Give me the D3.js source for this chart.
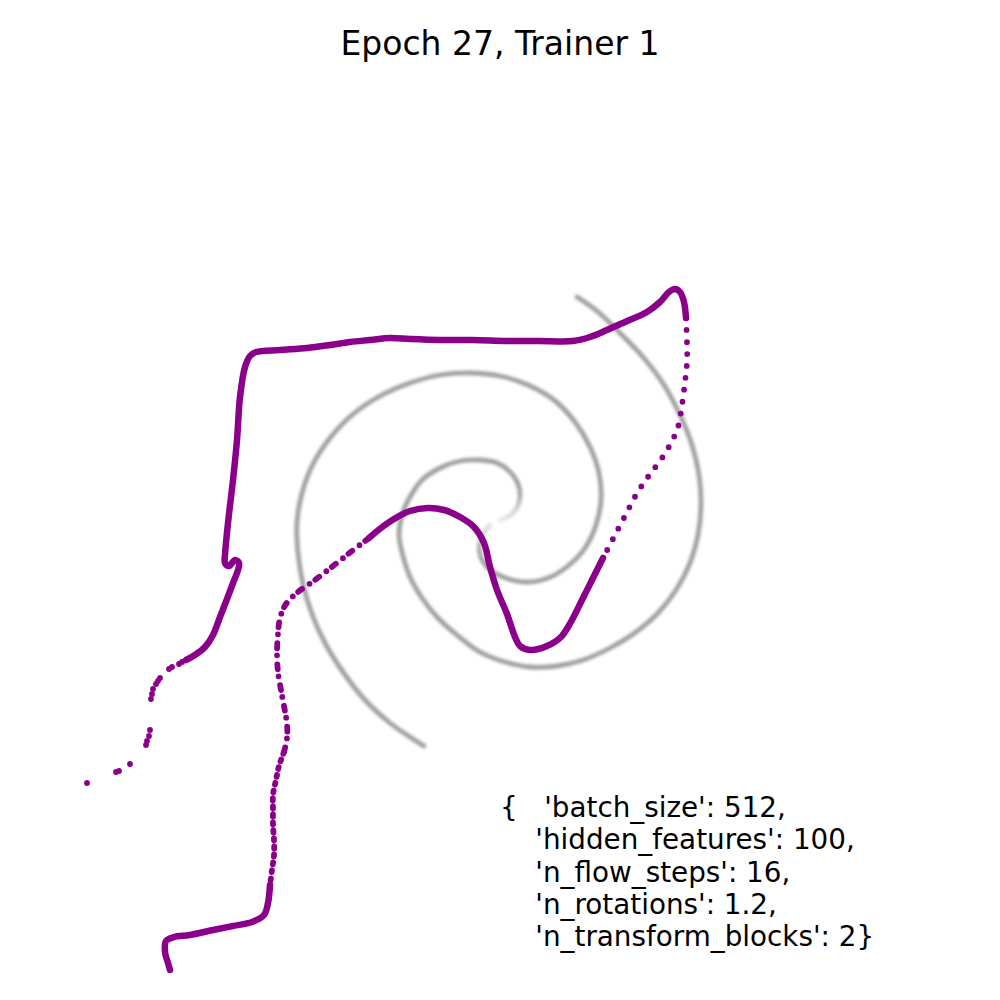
<!DOCTYPE html>
<html>
<head>
<meta charset="utf-8">
<script src="https://cdn.jsdelivr.net/npm/d3@7"></script>
<style>
  html, body { margin: 0; padding: 0; background: #ffffff; }
  svg { display: block; }
  text { font-family: "DejaVu Sans", sans-serif; }
</style>
</head>
<body>
<div id="chart"></div>
<script>
// ---------------- data ----------------
const titleText = "Epoch 27, Trainer 1";
const paramLines = [
  "{   'batch_size': 512,",
  "    'hidden_features': 100,",
  "    'n_flow_steps': 16,",
  "    'n_rotations': 1.2,",
  "    'n_transform_blocks': 2}"
];

// target spiral, arm A (inner -> outer)
const spiralArmA = [
  [0.00,0.00],[0.12,0.06],[0.19,0.18],[0.19,0.33],[0.11,0.47],[-0.03,0.57],[-0.20,0.60],
  [-0.40,0.59],[-0.60,0.52],[-0.78,0.40],[-0.90,0.23],[-0.98,0.05],[-1.01,-0.15],[-0.97,-0.36],
  [-0.90,-0.57],[-0.78,-0.78],[-0.62,-0.98],[-0.43,-1.15],[-0.20,-1.32],[0.05,-1.42],[0.30,-1.47],
  [0.57,-1.46],[0.83,-1.40],[1.10,-1.28],[1.36,-1.12],[1.58,-0.93],[1.76,-0.70],[1.90,-0.43],
  [1.98,-0.15],[2.01,0.15],[1.99,0.45],[1.92,0.75],[1.80,1.05],[1.64,1.35],[1.43,1.63],
  [1.20,1.87],[0.97,2.09],[0.77,2.23]
];
// target spiral, arm B (inner -> outer)
const spiralArmB = [
  [-0.10,-0.05],[-0.19,-0.18],[-0.20,-0.34],[-0.12,-0.48],[0.03,-0.57],[0.25,-0.62],[0.48,-0.58],
  [0.68,-0.46],[0.85,-0.28],[0.96,-0.05],[1.01,0.20],[0.99,0.47],[0.90,0.73],[0.75,0.98],
  [0.54,1.20],[0.28,1.35],[0.00,1.44],[-0.30,1.47],[-0.60,1.45],[-0.90,1.37],[-1.20,1.24],
  [-1.48,1.05],[-1.70,0.82],[-1.87,0.56],[-1.98,0.27],[-2.03,-0.02],[-2.02,-0.33],[-1.97,-0.64],
  [-1.88,-0.94],[-1.75,-1.23],[-1.57,-1.52],[-1.35,-1.80],[-1.10,-2.03],[-0.90,-2.17],[-0.76,-2.26]
];

// generated samples (purple), split into stretches by sample density
const sampleTailDots = [
  [-4.13,-2.63],[-3.84,-2.52],[-3.81,-2.51],[-3.70,-2.44],[-3.54,-2.25],[-3.53,-2.21],[-3.51,-2.16],
  [-3.50,-2.10],[-3.49,-1.79],[-3.48,-1.74],[-3.47,-1.69],[-3.44,-1.64],[-3.42,-1.61],[-3.40,-1.58],
  [-3.31,-1.49],[-3.28,-1.47],[-3.21,-1.44],[-3.18,-1.42]
];
const sampleDense1 = [
  [-3.14,-1.40],[-3.05,-1.35],[-2.95,-1.27],[-2.87,-1.15],[-2.80,-0.97],[-2.73,-0.79],[-2.67,-0.63],
  [-2.62,-0.50],[-2.61,-0.43],[-2.65,-0.40],[-2.71,-0.46],[-2.75,-0.43],[-2.75,-0.35],[-2.72,-0.03],
  [-2.67,0.40],[-2.63,0.80],[-2.60,1.23],[-2.55,1.53],[-2.50,1.64],[-2.44,1.68],[-2.20,1.70],
  [-1.93,1.72],[-1.70,1.75],[-1.50,1.78],[-1.30,1.80],[-1.10,1.82],[-0.90,1.81],[-0.60,1.80],
  [-0.27,1.80],[0.07,1.79],[0.40,1.79],[0.73,1.79],[0.90,1.83],[1.07,1.90],[1.25,1.98],
  [1.47,2.08],[1.60,2.18],[1.69,2.28],[1.75,2.31],[1.80,2.28],[1.84,2.18],[1.86,2.02]
];
const sampleSparse2 = [
  [1.86,2.02],[1.87,1.77],[1.87,1.58],[1.85,1.38],[1.82,1.15],[1.78,0.93],[1.72,0.79],
  [1.64,0.65],[1.54,0.51],[1.45,0.39],[1.36,0.25],[1.26,0.06],[1.14,-0.17],[1.03,-0.38]
];
const sampleDense3 = [
  [1.03,-0.38],[0.94,-0.56],[0.83,-0.78],[0.72,-1.00],[0.61,-1.17],[0.47,-1.26],[0.30,-1.30],
  [0.20,-1.26],[0.15,-1.17],[0.07,-0.94],[-0.03,-0.70],[-0.10,-0.47],[-0.16,-0.23],[-0.26,-0.07],
  [-0.40,0.03],[-0.56,0.10],[-0.72,0.12],[-0.90,0.09],[-1.06,0.01],[-1.19,-0.08],[-1.31,-0.18]
];
const sampleSparse4 = [
  [-1.31,-0.18],[-1.48,-0.31],[-1.67,-0.46],[-1.85,-0.60],[-2.02,-0.72],[-2.14,-0.84],[-2.20,-0.98],
  [-2.22,-1.14],[-2.23,-1.33],[-2.22,-1.52],[-2.19,-1.70],[-2.16,-1.86],[-2.13,-2.04],[-2.13,-2.18],
  [-2.16,-2.32]
];
const sampleSemi4 = [
  [-2.16,-2.32],[-2.21,-2.46],[-2.24,-2.60],[-2.27,-2.75],[-2.27,-2.90],[-2.27,-3.05],[-2.26,-3.20],
  [-2.26,-3.35],[-2.28,-3.50],[-2.30,-3.65]
];
const sampleDense5 = [
  [-2.30,-3.65],[-2.32,-3.83],[-2.36,-3.95],[-2.48,-4.02],[-2.67,-4.06],[-2.87,-4.10],[-3.10,-4.15],
  [-3.26,-4.17],[-3.34,-4.21],[-3.35,-4.32],[-3.32,-4.43],[-3.30,-4.50]
];

// ---------------- drawing ----------------
const W = 1000, H = 1000;
const svg = d3.select("#chart").append("svg")
  .attr("width", W).attr("height", H)
  .style("background", "#ffffff");

const x = d3.scaleLinear().domain([-5, 5]).range([0, 1000]);
const y = d3.scaleLinear().domain([-4.8, 5.2]).range([1000, 0]);

const defs = svg.append("defs");
defs.append("filter").attr("id", "soft")
  .attr("x", "-10%").attr("y", "-10%").attr("width", "120%").attr("height", "120%")
  .append("feGaussianBlur").attr("stdDeviation", 1.4);

const rg = defs.append("radialGradient").attr("id", "centerFade")
  .attr("gradientUnits", "userSpaceOnUse")
  .attr("cx", x(0)).attr("cy", y(-0.03)).attr("r", 38);
rg.append("stop").attr("offset", "0%").attr("stop-color", "#fff").attr("stop-opacity", 0.2);
rg.append("stop").attr("offset", "55%").attr("stop-color", "#fff").attr("stop-opacity", 0.45);
rg.append("stop").attr("offset", "100%").attr("stop-color", "#fff").attr("stop-opacity", 1);
const mask = defs.append("mask").attr("id", "fadeMask")
  .attr("maskUnits", "userSpaceOnUse").attr("x", 0).attr("y", 0).attr("width", W).attr("height", H);
mask.append("rect").attr("width", W).attr("height", H).attr("fill", "#fff");
mask.append("circle").attr("cx", x(0)).attr("cy", y(-0.03)).attr("r", 38).attr("fill", "#000");
mask.append("circle").attr("cx", x(0)).attr("cy", y(-0.03)).attr("r", 38).attr("fill", "url(#centerFade)");

const line = d3.line().x(d => x(d[0])).y(d => y(d[1])).curve(d3.curveCatmullRom.alpha(0.5));

// spiral
const sg = svg.append("g").attr("mask", "url(#fadeMask)");
[spiralArmA, spiralArmB].forEach(arm => {
  sg.append("path").attr("d", line(arm))
    .attr("fill", "none").attr("stroke", "#8a8a8a")
    .attr("stroke-width", 4.8).attr("stroke-opacity", 0.8)
    .attr("stroke-linecap", "round")
    .attr("filter", "url(#soft)");
});

// samples
const purple = "#8b008b";
const pg = svg.append("g");
[sampleDense1, sampleDense3, sampleDense5].forEach(seg => {
  pg.append("path").attr("d", line(seg))
    .attr("fill", "none").attr("stroke", purple)
    .attr("stroke-width", 6.5).attr("stroke-linecap", "round").attr("stroke-linejoin", "round");
});
[[sampleSparse2, "0 12"], [sampleSparse4, "5 7 0 9"], [sampleSemi4, "2 6"]].forEach(([seg, dash]) => {
  pg.append("path").attr("d", line(seg))
    .attr("fill", "none").attr("stroke", purple)
    .attr("stroke-width", 5.8).attr("stroke-linecap", "round")
    .attr("stroke-dasharray", dash);
});
pg.selectAll("circle.tail").data(sampleTailDots).enter().append("circle")
  .attr("class", "tail")
  .attr("cx", d => x(d[0])).attr("cy", d => y(d[1])).attr("r", 2.9)
  .attr("fill", purple);

// title
svg.append("text").attr("x", 500).attr("y", 55)
  .attr("text-anchor", "middle").attr("font-size", 33).attr("fill", "#000")
  .text(titleText);

// params text
const tg = svg.append("text").attr("font-size", 27.8).attr("fill", "#000")
  .attr("xml:space", "preserve").style("white-space", "pre");
paramLines.forEach((s, i) => {
  tg.append("tspan").attr("x", 500).attr("y", 817 + i * 32.3).text(s);
});
</script>
</body>
</html>
